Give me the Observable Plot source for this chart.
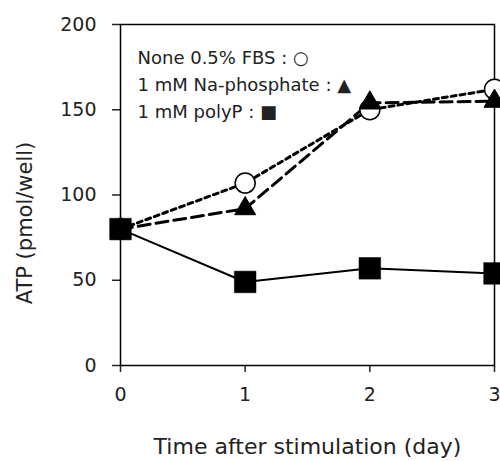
<!DOCTYPE html>
<html>
<head>
<meta charset="utf-8">
<script src="https://cdn.jsdelivr.net/npm/d3@7"></script>
<script src="https://cdn.jsdelivr.net/npm/@observablehq/plot@0.6"></script>
<style>
  html, body { margin: 0; padding: 0; background: white; }
</style>
</head>
<body>
<div id="chart"></div>
<script>
const days = [0, 1, 2, 3];
const noneFBS = [80, 107, 150, 162];
const naPhosphate = [80, 92, 154, 155];
const polyP = [80, 49, 57, 54];
const seriesNames = ["None 0.5% FBS", "1 mM Na-phosphate", "1 mM polyP"];
const legendGlyphs = ["○", "▲", "■"];
const xTicks = [0, 1, 2, 3];
const yTicks = [0, 50, 100, 150, 200];
const xLabel = "Time after stimulation (day)";
const yLabel = "ATP (pmol/well)";

const toRows = (vals) => days.map((d, i) => ({day: d, atp: vals[i]}));
const rowsNone = toRows(noneFBS);
const rowsNa = toRows(naPhosphate);
const rowsPoly = toRows(polyP);
const legendText = seriesNames.map((n, i) => `${n} : ${legendGlyphs[i]}`).join("\n");

const chart = Plot.plot({
  width: 500,
  height: 461,
  marginLeft: 120,
  marginRight: 6,
  marginTop: 24,
  marginBottom: 96,
  style: {fontFamily: "DejaVu Sans", fontSize: "18px", color: "#222", background: "white", overflow: "visible"},
  x: {domain: [0, 3]},
  y: {domain: [0, 200]},
  marks: [
    Plot.axisX({ticks: xTicks, tickSize: 7, tickPadding: 15, tickFormat: d => d, label: null, strokeWidth: 1.5, fontSize: 19}),
    Plot.axisY({ticks: yTicks, tickSize: 8, tickPadding: 16, tickFormat: d => d, label: null, strokeWidth: 1.5, fontSize: 19}),
    Plot.frame({stroke: "black", strokeWidth: 1.5}),
    Plot.line(rowsPoly, {x: "day", y: "atp", stroke: "black", strokeWidth: 2}),
    Plot.line(rowsNa, {x: "day", y: "atp", stroke: "black", strokeWidth: 3, strokeDasharray: "12,6"}),
    Plot.line(rowsNone, {x: "day", y: "atp", stroke: "black", strokeWidth: 3, strokeDasharray: "5,4"}),
    Plot.dot(rowsNone, {x: "day", y: "atp", symbol: "circle", r: 10, fill: "white", stroke: "black", strokeWidth: 1.5}),
    Plot.dot(rowsNa, {x: "day", y: "atp", symbol: "triangle", r: 7.8, fill: "black", stroke: "black", strokeWidth: 1}),
    Plot.dot(rowsPoly, {x: "day", y: "atp", symbol: "square", r: 12.2, fill: "black", stroke: "black", strokeWidth: 0.5}),
    Plot.text([legendText], {text: d => d, frameAnchor: "top-left", dx: 17, dy: 20, textAnchor: "start", lineAnchor: "top", lineHeight: 1.5, fontSize: 18, fill: "#222"}),
    Plot.text([xLabel], {text: d => d, frameAnchor: "bottom", dy: 88, lineAnchor: "bottom", textAnchor: "middle", fontSize: 22, fill: "#222"}),
    Plot.text([yLabel], {text: d => d, frameAnchor: "left", dx: -95, dy: 28, rotate: -90, textAnchor: "middle", lineAnchor: "middle", fontSize: 21, fill: "#222"})
  ]
});
document.getElementById("chart").appendChild(chart);
</script>
</body>
</html>
